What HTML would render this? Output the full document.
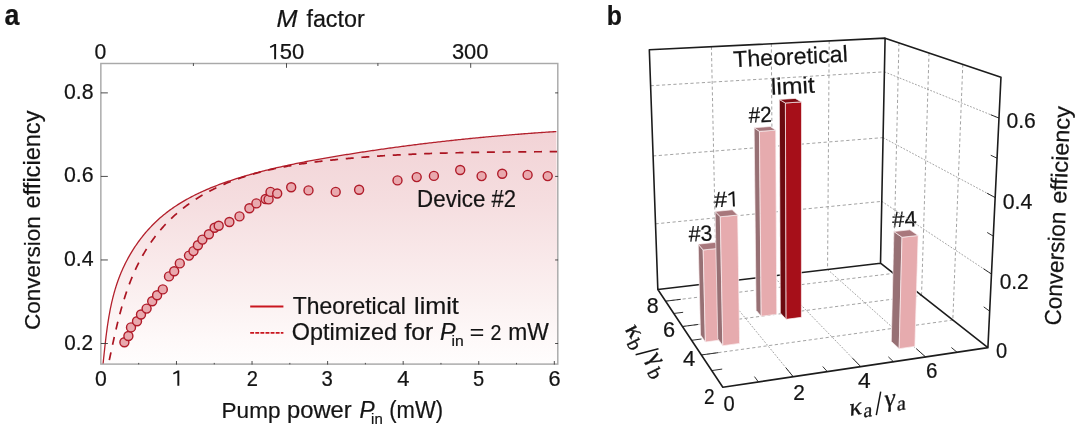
<!DOCTYPE html><html><head><meta charset="utf-8"><style>html,body{margin:0;padding:0;background:#fff}svg{display:block;will-change:transform}</style></head><body><svg width="1080" height="431" viewBox="0 0 1080 431"><defs><linearGradient id="g" x1="0" y1="0" x2="0" y2="1"><stop offset="0" stop-color="#f2d3d6"/><stop offset="0.28" stop-color="#f5dddf"/><stop offset="0.525" stop-color="#f9e9ea"/><stop offset="0.69" stop-color="#fbf1f1"/><stop offset="0.85" stop-color="#fef9f9"/><stop offset="1" stop-color="#ffffff"/></linearGradient>
<clipPath id="ca"><rect x="100.85" y="63.5" width="456.94999999999993" height="300.6"/></clipPath></defs>
<g clip-path="url(#ca)"><path d="M101.71,375.74 L101.88,374.34 L102.04,372.94 L102.2,371.54 L102.36,370.13 L102.52,368.72 L102.68,367.3 L102.83,365.88 L102.99,364.45 L103.14,363.03 L103.29,361.6 L103.44,360.16 L103.6,358.73 L103.75,357.29 L103.9,355.85 L104.05,354.4 L104.2,352.96 L104.36,351.51 L104.51,350.06 L104.67,348.6 L104.83,347.15 L104.99,345.69 L105.15,344.24 L105.32,342.78 L105.48,341.32 L105.65,339.86 L105.83,338.39 L106,336.93 L106.18,335.47 L106.37,334.01 L106.56,332.54 L106.75,331.08 L106.95,329.61 L107.15,328.15 L107.35,326.68 L107.56,325.22 L107.78,323.76 L108,322.29 L108.23,320.83 L108.46,319.37 L108.71,317.91 L108.95,316.45 L109.21,315 L109.47,313.54 L109.74,312.09 L110.01,310.63 L110.29,309.18 L110.59,307.74 L110.88,306.29 L111.19,304.85 L111.51,303.4 L111.83,301.97 L112.17,300.53 L112.51,299.1 L112.87,297.67 L113.23,296.24 L113.6,294.82 L113.99,293.4 L114.38,291.98 L114.78,290.57 L115.2,289.16 L115.63,287.76 L116.06,286.36 L116.51,284.96 L116.98,283.57 L117.45,282.18 L117.94,280.8 L118.43,279.42 L118.95,278.05 L119.47,276.69 L120.01,275.32 L120.55,273.97 L121.12,272.62 L121.69,271.27 L122.27,269.93 L122.87,268.6 L123.48,267.27 L124.1,265.95 L124.74,264.64 L125.38,263.33 L126.04,262.03 L126.71,260.73 L127.39,259.44 L128.08,258.16 L128.79,256.88 L129.5,255.62 L130.23,254.36 L130.97,253.1 L131.72,251.86 L132.49,250.62 L133.26,249.39 L134.05,248.17 L134.84,246.95 L135.65,245.74 L136.47,244.55 L137.3,243.36 L138.14,242.17 L139,241 L139.86,239.84 L140.73,238.68 L141.62,237.53 L142.52,236.4 L143.43,235.27 L144.34,234.15 L145.27,233.04 L146.21,231.94 L147.16,230.85 L148.12,229.77 L149.1,228.7 L150.08,227.64 L151.07,226.58 L152.08,225.54 L153.09,224.51 L154.11,223.49 L155.15,222.49 L156.19,221.49 L157.25,220.5 L158.31,219.52 L159.39,218.56 L160.47,217.61 L161.57,216.66 L162.67,215.73 L163.78,214.81 L164.91,213.9 L166.04,213.01 L167.19,212.12 L168.34,211.25 L169.5,210.39 L170.67,209.53 L171.85,208.69 L173.04,207.86 L174.24,207.04 L175.44,206.24 L176.66,205.44 L177.88,204.65 L179.11,203.87 L180.34,203.1 L181.59,202.35 L182.84,201.6 L184.1,200.86 L185.36,200.13 L186.64,199.41 L187.92,198.7 L189.2,198 L190.49,197.31 L191.79,196.63 L193.1,195.96 L194.41,195.29 L195.72,194.64 L197.05,193.99 L198.37,193.35 L199.71,192.72 L201.04,192.1 L202.39,191.49 L203.73,190.88 L205.09,190.29 L206.44,189.7 L207.8,189.11 L209.17,188.54 L210.54,187.97 L211.91,187.41 L213.29,186.86 L214.67,186.31 L216.05,185.78 L217.43,185.24 L218.82,184.72 L220.22,184.2 L221.61,183.69 L223.01,183.18 L224.41,182.69 L225.81,182.19 L227.21,181.71 L228.62,181.22 L230.03,180.75 L231.43,180.28 L232.84,179.82 L234.26,179.36 L235.67,178.91 L237.08,178.46 L238.5,178.02 L239.91,177.58 L241.33,177.15 L242.74,176.72 L244.16,176.3 L245.57,175.88 L246.99,175.46 L248.41,175.05 L249.82,174.65 L251.24,174.25 L252.66,173.85 L254.08,173.46 L255.49,173.08 L256.91,172.69 L258.33,172.31 L259.75,171.94 L261.17,171.57 L262.59,171.2 L264.01,170.84 L265.43,170.48 L266.85,170.13 L268.27,169.78 L269.69,169.43 L271.11,169.08 L272.54,168.74 L273.96,168.41 L275.38,168.07 L276.8,167.74 L278.23,167.42 L279.65,167.09 L281.07,166.77 L282.5,166.46 L283.92,166.14 L285.35,165.83 L286.77,165.52 L288.2,165.22 L289.63,164.92 L291.05,164.62 L292.48,164.32 L293.91,164.03 L295.33,163.73 L296.76,163.45 L298.19,163.16 L299.62,162.88 L301.05,162.59 L302.48,162.32 L303.91,162.04 L305.34,161.76 L306.77,161.49 L308.2,161.22 L309.63,160.95 L311.06,160.69 L312.49,160.42 L313.92,160.16 L315.36,159.9 L316.79,159.64 L318.22,159.38 L319.66,159.12 L321.09,158.87 L322.53,158.62 L323.96,158.36 L325.4,158.11 L326.83,157.87 L328.27,157.62 L329.7,157.37 L331.14,157.13 L332.58,156.88 L334.02,156.64 L335.45,156.4 L336.89,156.16 L338.33,155.92 L339.77,155.68 L341.21,155.44 L342.65,155.2 L344.09,154.97 L345.53,154.73 L346.97,154.5 L348.41,154.27 L349.85,154.04 L351.3,153.81 L352.74,153.58 L354.18,153.35 L355.62,153.12 L357.07,152.9 L358.51,152.67 L359.95,152.45 L361.4,152.23 L362.84,152.01 L364.29,151.79 L365.73,151.57 L367.18,151.35 L368.62,151.13 L370.07,150.92 L371.52,150.7 L372.96,150.49 L374.41,150.28 L375.86,150.06 L377.3,149.85 L378.75,149.64 L380.2,149.44 L381.65,149.23 L383.1,149.02 L384.55,148.82 L385.99,148.61 L387.44,148.41 L388.89,148.21 L390.34,148.01 L391.79,147.81 L393.24,147.61 L394.69,147.41 L396.15,147.21 L397.6,147.02 L399.05,146.82 L400.5,146.63 L401.95,146.43 L403.4,146.24 L404.85,146.05 L406.31,145.86 L407.76,145.67 L409.21,145.49 L410.66,145.3 L412.12,145.11 L413.57,144.93 L415.02,144.75 L416.48,144.56 L417.93,144.38 L419.39,144.2 L420.84,144.02 L422.29,143.84 L423.75,143.67 L425.2,143.49 L426.66,143.31 L428.11,143.14 L429.57,142.97 L431.02,142.79 L432.48,142.62 L433.94,142.45 L435.39,142.28 L436.85,142.11 L438.3,141.95 L439.76,141.78 L441.22,141.61 L442.67,141.45 L444.13,141.29 L445.59,141.12 L447.04,140.96 L448.5,140.8 L449.96,140.64 L451.41,140.48 L452.87,140.33 L454.33,140.17 L455.78,140.01 L457.24,139.86 L458.7,139.71 L460.16,139.55 L461.61,139.4 L463.07,139.25 L464.53,139.1 L465.99,138.95 L467.45,138.8 L468.9,138.66 L470.36,138.51 L471.82,138.37 L473.28,138.22 L474.74,138.08 L476.19,137.94 L477.65,137.8 L479.11,137.66 L480.57,137.52 L482.03,137.38 L483.49,137.24 L484.94,137.1 L486.4,136.97 L487.86,136.84 L489.32,136.7 L490.78,136.57 L492.24,136.44 L493.69,136.31 L495.15,136.18 L496.61,136.05 L498.07,135.92 L499.53,135.79 L500.99,135.67 L502.44,135.54 L503.9,135.42 L505.36,135.29 L506.82,135.17 L508.28,135.05 L509.73,134.93 L511.19,134.81 L512.65,134.69 L514.11,134.57 L515.57,134.46 L517.02,134.34 L518.48,134.23 L519.94,134.11 L521.4,134 L522.86,133.89 L524.31,133.77 L525.77,133.66 L527.23,133.55 L528.68,133.44 L530.14,133.34 L531.6,133.23 L533.06,133.12 L534.51,133.02 L535.97,132.91 L537.43,132.81 L538.88,132.71 L540.34,132.61 L541.8,132.51 L543.25,132.41 L544.71,132.31 L546.16,132.21 L547.62,132.11 L549.07,132.02 L550.53,131.92 L551.99,131.83 L553.44,131.73 L554.9,131.64 L556.35,131.55 L557.8,376.1 L100.85,376.1 Z" fill="url(#g)"/>
<path d="M101.71,375.74 L101.88,374.34 L102.04,372.94 L102.2,371.54 L102.36,370.13 L102.52,368.72 L102.68,367.3 L102.83,365.88 L102.99,364.45 L103.14,363.03 L103.29,361.6 L103.44,360.16 L103.6,358.73 L103.75,357.29 L103.9,355.85 L104.05,354.4 L104.2,352.96 L104.36,351.51 L104.51,350.06 L104.67,348.6 L104.83,347.15 L104.99,345.69 L105.15,344.24 L105.32,342.78 L105.48,341.32 L105.65,339.86 L105.83,338.39 L106,336.93 L106.18,335.47 L106.37,334.01 L106.56,332.54 L106.75,331.08 L106.95,329.61 L107.15,328.15 L107.35,326.68 L107.56,325.22 L107.78,323.76 L108,322.29 L108.23,320.83 L108.46,319.37 L108.71,317.91 L108.95,316.45 L109.21,315 L109.47,313.54 L109.74,312.09 L110.01,310.63 L110.29,309.18 L110.59,307.74 L110.88,306.29 L111.19,304.85 L111.51,303.4 L111.83,301.97 L112.17,300.53 L112.51,299.1 L112.87,297.67 L113.23,296.24 L113.6,294.82 L113.99,293.4 L114.38,291.98 L114.78,290.57 L115.2,289.16 L115.63,287.76 L116.06,286.36 L116.51,284.96 L116.98,283.57 L117.45,282.18 L117.94,280.8 L118.43,279.42 L118.95,278.05 L119.47,276.69 L120.01,275.32 L120.55,273.97 L121.12,272.62 L121.69,271.27 L122.27,269.93 L122.87,268.6 L123.48,267.27 L124.1,265.95 L124.74,264.64 L125.38,263.33 L126.04,262.03 L126.71,260.73 L127.39,259.44 L128.08,258.16 L128.79,256.88 L129.5,255.62 L130.23,254.36 L130.97,253.1 L131.72,251.86 L132.49,250.62 L133.26,249.39 L134.05,248.17 L134.84,246.95 L135.65,245.74 L136.47,244.55 L137.3,243.36 L138.14,242.17 L139,241 L139.86,239.84 L140.73,238.68 L141.62,237.53 L142.52,236.4 L143.43,235.27 L144.34,234.15 L145.27,233.04 L146.21,231.94 L147.16,230.85 L148.12,229.77 L149.1,228.7 L150.08,227.64 L151.07,226.58 L152.08,225.54 L153.09,224.51 L154.11,223.49 L155.15,222.49 L156.19,221.49 L157.25,220.5 L158.31,219.52 L159.39,218.56 L160.47,217.61 L161.57,216.66 L162.67,215.73 L163.78,214.81 L164.91,213.9 L166.04,213.01 L167.19,212.12 L168.34,211.25 L169.5,210.39 L170.67,209.53 L171.85,208.69 L173.04,207.86 L174.24,207.04 L175.44,206.24 L176.66,205.44 L177.88,204.65 L179.11,203.87 L180.34,203.1 L181.59,202.35 L182.84,201.6 L184.1,200.86 L185.36,200.13 L186.64,199.41 L187.92,198.7 L189.2,198 L190.49,197.31 L191.79,196.63 L193.1,195.96 L194.41,195.29 L195.72,194.64 L197.05,193.99 L198.37,193.35 L199.71,192.72 L201.04,192.1 L202.39,191.49 L203.73,190.88 L205.09,190.29 L206.44,189.7 L207.8,189.11 L209.17,188.54 L210.54,187.97 L211.91,187.41 L213.29,186.86 L214.67,186.31 L216.05,185.78 L217.43,185.24 L218.82,184.72 L220.22,184.2 L221.61,183.69 L223.01,183.18 L224.41,182.69 L225.81,182.19 L227.21,181.71 L228.62,181.22 L230.03,180.75 L231.43,180.28 L232.84,179.82 L234.26,179.36 L235.67,178.91 L237.08,178.46 L238.5,178.02 L239.91,177.58 L241.33,177.15 L242.74,176.72 L244.16,176.3 L245.57,175.88 L246.99,175.46 L248.41,175.05 L249.82,174.65 L251.24,174.25 L252.66,173.85 L254.08,173.46 L255.49,173.08 L256.91,172.69 L258.33,172.31 L259.75,171.94 L261.17,171.57 L262.59,171.2 L264.01,170.84 L265.43,170.48 L266.85,170.13 L268.27,169.78 L269.69,169.43 L271.11,169.08 L272.54,168.74 L273.96,168.41 L275.38,168.07 L276.8,167.74 L278.23,167.42 L279.65,167.09 L281.07,166.77 L282.5,166.46 L283.92,166.14 L285.35,165.83 L286.77,165.52 L288.2,165.22 L289.63,164.92 L291.05,164.62 L292.48,164.32 L293.91,164.03 L295.33,163.73 L296.76,163.45 L298.19,163.16 L299.62,162.88 L301.05,162.59 L302.48,162.32 L303.91,162.04 L305.34,161.76 L306.77,161.49 L308.2,161.22 L309.63,160.95 L311.06,160.69 L312.49,160.42 L313.92,160.16 L315.36,159.9 L316.79,159.64 L318.22,159.38 L319.66,159.12 L321.09,158.87 L322.53,158.62 L323.96,158.36 L325.4,158.11 L326.83,157.87 L328.27,157.62 L329.7,157.37 L331.14,157.13 L332.58,156.88 L334.02,156.64 L335.45,156.4 L336.89,156.16 L338.33,155.92 L339.77,155.68 L341.21,155.44 L342.65,155.2 L344.09,154.97 L345.53,154.73 L346.97,154.5 L348.41,154.27 L349.85,154.04 L351.3,153.81 L352.74,153.58 L354.18,153.35 L355.62,153.12 L357.07,152.9 L358.51,152.67 L359.95,152.45 L361.4,152.23 L362.84,152.01 L364.29,151.79 L365.73,151.57 L367.18,151.35 L368.62,151.13 L370.07,150.92 L371.52,150.7 L372.96,150.49 L374.41,150.28 L375.86,150.06 L377.3,149.85 L378.75,149.64 L380.2,149.44 L381.65,149.23 L383.1,149.02 L384.55,148.82 L385.99,148.61 L387.44,148.41 L388.89,148.21 L390.34,148.01 L391.79,147.81 L393.24,147.61 L394.69,147.41 L396.15,147.21 L397.6,147.02 L399.05,146.82 L400.5,146.63 L401.95,146.43 L403.4,146.24 L404.85,146.05 L406.31,145.86 L407.76,145.67 L409.21,145.49 L410.66,145.3 L412.12,145.11 L413.57,144.93 L415.02,144.75 L416.48,144.56 L417.93,144.38 L419.39,144.2 L420.84,144.02 L422.29,143.84 L423.75,143.67 L425.2,143.49 L426.66,143.31 L428.11,143.14 L429.57,142.97 L431.02,142.79 L432.48,142.62 L433.94,142.45 L435.39,142.28 L436.85,142.11 L438.3,141.95 L439.76,141.78 L441.22,141.61 L442.67,141.45 L444.13,141.29 L445.59,141.12 L447.04,140.96 L448.5,140.8 L449.96,140.64 L451.41,140.48 L452.87,140.33 L454.33,140.17 L455.78,140.01 L457.24,139.86 L458.7,139.71 L460.16,139.55 L461.61,139.4 L463.07,139.25 L464.53,139.1 L465.99,138.95 L467.45,138.8 L468.9,138.66 L470.36,138.51 L471.82,138.37 L473.28,138.22 L474.74,138.08 L476.19,137.94 L477.65,137.8 L479.11,137.66 L480.57,137.52 L482.03,137.38 L483.49,137.24 L484.94,137.1 L486.4,136.97 L487.86,136.84 L489.32,136.7 L490.78,136.57 L492.24,136.44 L493.69,136.31 L495.15,136.18 L496.61,136.05 L498.07,135.92 L499.53,135.79 L500.99,135.67 L502.44,135.54 L503.9,135.42 L505.36,135.29 L506.82,135.17 L508.28,135.05 L509.73,134.93 L511.19,134.81 L512.65,134.69 L514.11,134.57 L515.57,134.46 L517.02,134.34 L518.48,134.23 L519.94,134.11 L521.4,134 L522.86,133.89 L524.31,133.77 L525.77,133.66 L527.23,133.55 L528.68,133.44 L530.14,133.34 L531.6,133.23 L533.06,133.12 L534.51,133.02 L535.97,132.91 L537.43,132.81 L538.88,132.71 L540.34,132.61 L541.8,132.51 L543.25,132.41 L544.71,132.31 L546.16,132.21 L547.62,132.11 L549.07,132.02 L550.53,131.92 L551.99,131.83 L553.44,131.73 L554.9,131.64 L556.35,131.55" fill="none" stroke="#b3202c" stroke-width="1.3"/>
<path d="M109.29,360.16 L109.57,358.83 L109.86,357.49 L110.14,356.15 L110.42,354.81 L110.71,353.47 L110.99,352.13 L111.28,350.78 L111.57,349.44 L111.85,348.09 L112.14,346.74 L112.43,345.39 L112.73,344.04 L113.02,342.68 L113.32,341.33 L113.62,339.97 L113.92,338.61 L114.22,337.26 L114.52,335.9 L114.83,334.54 L115.14,333.18 L115.45,331.82 L115.77,330.46 L116.08,329.1 L116.41,327.74 L116.73,326.38 L117.06,325.02 L117.39,323.66 L117.72,322.3 L118.06,320.94 L118.41,319.58 L118.75,318.22 L119.1,316.87 L119.46,315.51 L119.82,314.15 L120.18,312.8 L120.55,311.44 L120.93,310.09 L121.3,308.74 L121.69,307.38 L122.08,306.04 L122.47,304.69 L122.87,303.34 L123.28,302 L123.69,300.65 L124.1,299.31 L124.53,297.97 L124.96,296.63 L125.39,295.3 L125.83,293.97 L126.28,292.64 L126.73,291.31 L127.2,289.98 L127.66,288.66 L128.14,287.34 L128.62,286.02 L129.11,284.71 L129.61,283.39 L130.12,282.08 L130.63,280.78 L131.15,279.48 L131.68,278.18 L132.21,276.88 L132.76,275.59 L133.31,274.3 L133.87,273.02 L134.44,271.74 L135.02,270.46 L135.61,269.19 L136.2,267.92 L136.81,266.65 L137.43,265.39 L138.05,264.14 L138.68,262.89 L139.32,261.64 L139.98,260.4 L140.64,259.16 L141.31,257.93 L141.98,256.7 L142.67,255.48 L143.37,254.27 L144.08,253.06 L144.79,251.85 L145.52,250.66 L146.25,249.46 L147,248.28 L147.75,247.1 L148.51,245.93 L149.29,244.76 L150.07,243.6 L150.86,242.45 L151.66,241.3 L152.47,240.16 L153.29,239.03 L154.12,237.9 L154.97,236.79 L155.82,235.68 L156.67,234.57 L157.54,233.48 L158.42,232.39 L159.31,231.31 L160.21,230.24 L161.12,229.18 L162.04,228.13 L162.97,227.08 L163.91,226.05 L164.85,225.02 L165.81,224 L166.78,222.99 L167.75,221.99 L168.74,221 L169.73,220.01 L170.73,219.04 L171.74,218.07 L172.76,217.11 L173.79,216.17 L174.82,215.23 L175.87,214.3 L176.92,213.38 L177.97,212.47 L179.04,211.57 L180.11,210.68 L181.19,209.8 L182.27,208.92 L183.37,208.06 L184.47,207.21 L185.57,206.36 L186.68,205.53 L187.8,204.71 L188.92,203.89 L190.05,203.09 L191.19,202.3 L192.33,201.51 L193.48,200.74 L194.63,199.98 L195.78,199.22 L196.95,198.48 L198.11,197.74 L199.29,197.02 L200.46,196.3 L201.65,195.6 L202.83,194.9 L204.03,194.21 L205.23,193.53 L206.43,192.87 L207.64,192.21 L208.85,191.55 L210.06,190.91 L211.29,190.28 L212.51,189.65 L213.74,189.04 L214.98,188.43 L216.22,187.83 L217.46,187.24 L218.71,186.66 L219.96,186.08 L221.22,185.52 L222.48,184.96 L223.75,184.41 L225.01,183.87 L226.29,183.33 L227.56,182.81 L228.85,182.29 L230.13,181.78 L231.42,181.28 L232.71,180.78 L234.01,180.29 L235.3,179.81 L236.61,179.34 L237.91,178.87 L239.22,178.41 L240.54,177.96 L241.85,177.52 L243.17,177.08 L244.49,176.65 L245.82,176.22 L247.15,175.81 L248.48,175.4 L249.81,174.99 L251.15,174.59 L252.49,174.2 L253.83,173.82 L255.18,173.44 L256.53,173.07 L257.88,172.7 L259.23,172.34 L260.59,171.99 L261.95,171.64 L263.31,171.29 L264.67,170.96 L266.04,170.63 L267.41,170.3 L268.78,169.98 L270.15,169.66 L271.52,169.36 L272.9,169.05 L274.28,168.75 L275.66,168.46 L277.04,168.17 L278.42,167.89 L279.8,167.61 L281.19,167.33 L282.58,167.06 L283.97,166.8 L285.36,166.54 L286.75,166.29 L288.15,166.03 L289.54,165.79 L290.94,165.55 L292.34,165.31 L293.74,165.07 L295.14,164.85 L296.54,164.62 L297.94,164.4 L299.34,164.18 L300.75,163.97 L302.15,163.76 L303.56,163.55 L304.96,163.35 L306.37,163.15 L307.77,162.95 L309.18,162.76 L310.59,162.57 L312,162.38 L313.41,162.2 L314.82,162.02 L316.23,161.84 L317.64,161.67 L319.04,161.5 L320.45,161.33 L321.86,161.16 L323.27,161 L324.68,160.84 L326.09,160.68 L327.5,160.53 L328.91,160.37 L330.32,160.22 L331.73,160.07 L333.13,159.93 L334.54,159.78 L335.95,159.64 L337.35,159.5 L338.76,159.36 L340.16,159.22 L341.57,159.08 L342.97,158.95 L344.37,158.82 L345.77,158.69 L347.18,158.56 L348.58,158.43 L349.98,158.31 L351.38,158.18 L352.78,158.06 L354.17,157.94 L355.57,157.82 L356.97,157.7 L358.37,157.59 L359.76,157.48 L361.16,157.36 L362.55,157.25 L363.95,157.14 L365.34,157.04 L366.74,156.93 L368.13,156.82 L369.52,156.72 L370.92,156.62 L372.31,156.52 L373.7,156.42 L375.09,156.32 L376.48,156.23 L377.87,156.13 L379.26,156.04 L380.65,155.95 L382.04,155.86 L383.43,155.77 L384.82,155.69 L386.21,155.6 L387.6,155.52 L388.98,155.43 L390.37,155.35 L391.76,155.27 L393.15,155.19 L394.53,155.11 L395.92,155.04 L397.31,154.96 L398.69,154.89 L400.08,154.82 L401.47,154.74 L402.85,154.67 L404.24,154.61 L405.62,154.54 L407.01,154.47 L408.39,154.41 L409.78,154.34 L411.16,154.28 L412.55,154.22 L413.93,154.16 L415.32,154.1 L416.7,154.04 L418.08,153.98 L419.47,153.92 L420.85,153.87 L422.24,153.81 L423.62,153.76 L425.01,153.71 L426.39,153.66 L427.77,153.61 L429.16,153.56 L430.54,153.51 L431.93,153.46 L433.31,153.41 L434.7,153.37 L436.08,153.32 L437.47,153.28 L438.85,153.24 L440.23,153.2 L441.62,153.16 L443,153.12 L444.39,153.08 L445.78,153.04 L447.16,153 L448.55,152.96 L449.93,152.93 L451.32,152.89 L452.71,152.86 L454.09,152.82 L455.48,152.79 L456.87,152.76 L458.25,152.73 L459.64,152.7 L461.03,152.67 L462.42,152.64 L463.8,152.61 L465.19,152.58 L466.58,152.56 L467.97,152.53 L469.36,152.5 L470.75,152.48 L472.14,152.45 L473.53,152.43 L474.92,152.4 L476.31,152.38 L477.71,152.36 L479.1,152.34 L480.49,152.32 L481.88,152.3 L483.28,152.28 L484.67,152.26 L486.07,152.24 L487.46,152.22 L488.86,152.2 L490.25,152.18 L491.65,152.16 L493.05,152.15 L494.44,152.13 L495.84,152.11 L497.24,152.1 L498.64,152.08 L500.04,152.07 L501.44,152.05 L502.84,152.04 L504.24,152.02 L505.65,152.01 L507.05,152 L508.45,151.98 L509.86,151.97 L511.26,151.96 L512.67,151.94 L514.07,151.93 L515.48,151.92 L516.89,151.91 L518.29,151.9 L519.7,151.88 L521.11,151.87 L522.52,151.86 L523.93,151.85 L525.35,151.84 L526.76,151.83 L528.17,151.82 L529.59,151.81 L531,151.8 L532.42,151.79 L533.84,151.78 L535.25,151.77 L536.67,151.76 L538.09,151.75 L539.51,151.74 L540.93,151.73 L542.35,151.72 L543.78,151.71 L545.2,151.7 L546.63,151.68 L548.05,151.67 L549.48,151.66 L550.91,151.65 L552.33,151.64 L553.76,151.63 L555.19,151.62 L556.63,151.61 L558.06,151.6" fill="none" stroke="#ab1421" stroke-width="1.7" stroke-dasharray="8 7.7"/></g>
<rect x="100.85" y="63.5" width="456.94999999999993" height="300.6" fill="none" stroke="#a9a9a9" stroke-width="1.45"/>
<path d="M176.47,364.6 v-3.6 M252.04,364.6 v-3.6 M327.61,364.6 v-3.6 M403.18,364.6 v-3.6 M478.75,364.6 v-3.6 M554.32,364.6 v-3.6 M138.69,364.40000000000003 v-1.5 M214.25,364.40000000000003 v-1.5 M289.82,364.40000000000003 v-1.5 M365.39,364.40000000000003 v-1.5 M440.96,364.40000000000003 v-1.5 M516.53,364.40000000000003 v-1.5 M100.85,343.5 h7 M558.0999999999999,343.5 h-3 M100.85,259.96 h7 M558.0999999999999,259.96 h-3 M100.85,176.42 h7 M558.0999999999999,176.42 h-3 M100.85,92.88 h7 M558.0999999999999,92.88 h-3 M286.5,63.2 v4.6 M470.7,63.2 v4.6 M193.4,63.2 v2.8 M377.9,63.2 v2.8" stroke="#3a3a3a" stroke-width="0.9" fill="none"/>
<g fill="#e9a9ae" stroke="#b01c2a" stroke-width="1.4">
<circle cx="124.4" cy="342.3" r="4.5"/>
<circle cx="128.4" cy="336" r="4.5"/>
<circle cx="131" cy="327.4" r="4.5"/>
<circle cx="137" cy="321.2" r="4.5"/>
<circle cx="141" cy="314.5" r="4.5"/>
<circle cx="146.6" cy="308.6" r="4.5"/>
<circle cx="152.2" cy="301.2" r="4.5"/>
<circle cx="157.1" cy="295.2" r="4.5"/>
<circle cx="162.8" cy="289.4" r="4.5"/>
<circle cx="169" cy="276.4" r="4.5"/>
<circle cx="174.2" cy="271.2" r="4.5"/>
<circle cx="179.8" cy="263.4" r="4.5"/>
<circle cx="189" cy="255.6" r="4.5"/>
<circle cx="193.5" cy="251.1" r="4.5"/>
<circle cx="197.9" cy="245.2" r="4.5"/>
<circle cx="202.4" cy="239.6" r="4.5"/>
<circle cx="208.9" cy="234.2" r="4.5"/>
<circle cx="214.6" cy="227.8" r="4.5"/>
<circle cx="218.7" cy="225.7" r="4.5"/>
<circle cx="229.4" cy="222" r="4.5"/>
<circle cx="239.5" cy="216.4" r="4.5"/>
<circle cx="249.4" cy="208.2" r="4.5"/>
<circle cx="256.4" cy="203.4" r="4.5"/>
<circle cx="265.6" cy="199.0" r="4.5"/>
<circle cx="268.6" cy="199.4" r="4.5"/>
<circle cx="270.5" cy="191.9" r="4.5"/>
<circle cx="277.2" cy="193.5" r="4.5"/>
<circle cx="291.2" cy="187.3" r="4.5"/>
<circle cx="308.5" cy="190.4" r="4.5"/>
<circle cx="335.7" cy="191.9" r="4.5"/>
<circle cx="359.1" cy="189.7" r="4.5"/>
<circle cx="397.5" cy="180.4" r="4.5"/>
<circle cx="416.7" cy="177.1" r="4.5"/>
<circle cx="433.9" cy="175.9" r="4.5"/>
<circle cx="460.2" cy="170" r="4.5"/>
<circle cx="481.6" cy="176.1" r="4.5"/>
<circle cx="502.2" cy="173.7" r="4.5"/>
<circle cx="527.6" cy="174.9" r="4.5"/>
<circle cx="547.7" cy="176.1" r="4.5"/>
</g>
<text transform="translate(4.5,25.3) scale(0.9083,1)" font-family="Liberation Sans, sans-serif" font-size="29.5" text-anchor="start" fill="#141414" stroke="#141414" stroke-width="0.22"  font-weight="bold">a</text>
<text transform="translate(606.7,25.3) scale(0.8876,1)" font-family="Liberation Sans, sans-serif" font-size="28" text-anchor="start" fill="#141414" stroke="#141414" stroke-width="0.22"  font-weight="bold">b</text>
<text transform="translate(276.4,27.3) scale(1.0961,1)" font-family="Liberation Sans, sans-serif" font-size="23" text-anchor="start" fill="#141414" stroke="#141414" stroke-width="0.22"  font-style="italic">M</text>
<text transform="translate(306.4,27.3) scale(1.0139,1)" font-family="Liberation Sans, sans-serif" font-size="23" text-anchor="start" fill="#141414" stroke="#141414" stroke-width="0.22" >factor</text>
<text transform="translate(94.6,59.2) scale(0.9633,1)" font-family="Liberation Sans, sans-serif" font-size="22" text-anchor="start" fill="#141414" stroke="#141414" stroke-width="0.22" >0</text>
<text transform="translate(279.7,59.2)" font-family="Liberation Sans, sans-serif" font-size="22" text-anchor="start" fill="#141414" stroke="#141414" stroke-width="0.22" >50</text>
<text transform="translate(451.9,59.2) scale(0.9959,1)" font-family="Liberation Sans, sans-serif" font-size="22" text-anchor="start" fill="#141414" stroke="#141414" stroke-width="0.22" >300</text>
<text transform="translate(63.9,98.9) scale(0.9665,1)" font-family="Liberation Sans, sans-serif" font-size="22" text-anchor="start" fill="#141414" stroke="#141414" stroke-width="0.22" >0.8</text>
<text transform="translate(63.9,182.4) scale(0.9698,1)" font-family="Liberation Sans, sans-serif" font-size="22" text-anchor="start" fill="#141414" stroke="#141414" stroke-width="0.22" >0.6</text>
<text transform="translate(63.9,265.9) scale(0.9698,1)" font-family="Liberation Sans, sans-serif" font-size="22" text-anchor="start" fill="#141414" stroke="#141414" stroke-width="0.22" >0.4</text>
<text transform="translate(64.2,349.6) scale(0.9404,1)" font-family="Liberation Sans, sans-serif" font-size="22" text-anchor="start" fill="#141414" stroke="#141414" stroke-width="0.22" >0.2</text>
<text transform="translate(95,385.7) scale(0.9633,1)" font-family="Liberation Sans, sans-serif" font-size="22" text-anchor="start" fill="#141414" stroke="#141414" stroke-width="0.22" >0</text>
<text transform="translate(246.8,385.7) scale(0.9143,1)" font-family="Liberation Sans, sans-serif" font-size="22" text-anchor="start" fill="#141414" stroke="#141414" stroke-width="0.22" >2</text>
<text transform="translate(321.6,385.7) scale(0.9224,1)" font-family="Liberation Sans, sans-serif" font-size="22" text-anchor="start" fill="#141414" stroke="#141414" stroke-width="0.22" >3</text>
<text transform="translate(397.2,385.7) scale(0.9959,1)" font-family="Liberation Sans, sans-serif" font-size="22" text-anchor="start" fill="#141414" stroke="#141414" stroke-width="0.22" >4</text>
<text transform="translate(473.1,385.7) scale(0.9143,1)" font-family="Liberation Sans, sans-serif" font-size="22" text-anchor="start" fill="#141414" stroke="#141414" stroke-width="0.22" >5</text>
<text transform="translate(548.4,385.7) scale(0.9878,1)" font-family="Liberation Sans, sans-serif" font-size="22" text-anchor="start" fill="#141414" stroke="#141414" stroke-width="0.22" >6</text>
<text transform="translate(39.5,330.1) rotate(-90) scale(0.9796,1)" font-family="Liberation Sans, sans-serif" font-size="23" text-anchor="start" fill="#141414" stroke="#141414" stroke-width="0.22" >Conversion</text>
<text transform="translate(39.5,208.4) rotate(-90) scale(1.0251,1)" font-family="Liberation Sans, sans-serif" font-size="23" text-anchor="start" fill="#141414" stroke="#141414" stroke-width="0.22" >efficiency</text>
<text transform="translate(221.6,417.6) scale(0.9796,1)" font-family="Liberation Sans, sans-serif" font-size="23" text-anchor="start" fill="#141414" stroke="#141414" stroke-width="0.22" >Pump</text>
<text transform="translate(287.1,417.6) scale(1.0315,1)" font-family="Liberation Sans, sans-serif" font-size="23" text-anchor="start" fill="#141414" stroke="#141414" stroke-width="0.22" >power</text>
<text transform="translate(359.6,417.6) scale(0.9886,1)" font-family="Liberation Sans, sans-serif" font-size="23" text-anchor="start" fill="#141414" stroke="#141414" stroke-width="0.22"  font-style="italic">P</text>
<text transform="translate(371.1,423.5) scale(0.9978,1)" font-family="Liberation Sans, sans-serif" font-size="15" text-anchor="start" fill="#141414" stroke="#141414" stroke-width="0.22" >in</text>
<text transform="translate(389.3,417.6) scale(0.9564,1)" font-family="Liberation Sans, sans-serif" font-size="23" text-anchor="start" fill="#141414" stroke="#141414" stroke-width="0.22" >(mW)</text>
<text transform="translate(292.7,313.5) scale(0.9960,1)" font-family="Liberation Sans, sans-serif" font-size="23" text-anchor="start" fill="#141414" stroke="#141414" stroke-width="0.22" >Theoretical</text>
<text transform="translate(414.1,313.5) scale(1.0960,1)" font-family="Liberation Sans, sans-serif" font-size="23" text-anchor="start" fill="#141414" stroke="#141414" stroke-width="0.22" >limit</text>
<text transform="translate(291.8,340.2) scale(1.0174,1)" font-family="Liberation Sans, sans-serif" font-size="23" text-anchor="start" fill="#141414" stroke="#141414" stroke-width="0.22" >Optimized</text>
<text transform="translate(404.4,340.2) scale(1.0791,1)" font-family="Liberation Sans, sans-serif" font-size="23" text-anchor="start" fill="#141414" stroke="#141414" stroke-width="0.22" >for</text>
<text transform="translate(440,340.2) scale(1.0211,1)" font-family="Liberation Sans, sans-serif" font-size="23" text-anchor="start" fill="#141414" stroke="#141414" stroke-width="0.22"  font-style="italic">P</text>
<text transform="translate(451.6,346.1) scale(1.0495,1)" font-family="Liberation Sans, sans-serif" font-size="15" text-anchor="start" fill="#141414" stroke="#141414" stroke-width="0.22" >in</text>
<text transform="translate(469.7,340.2) scale(1.1262,1)" font-family="Liberation Sans, sans-serif" font-size="22" text-anchor="start" fill="#141414" stroke="#141414" stroke-width="0.22" >=</text>
<text transform="translate(490.5,340.2) scale(0.8898,1)" font-family="Liberation Sans, sans-serif" font-size="22" text-anchor="start" fill="#141414" stroke="#141414" stroke-width="0.22" >2</text>
<text transform="translate(508.3,340.2) scale(0.9933,1)" font-family="Liberation Sans, sans-serif" font-size="23" text-anchor="start" fill="#141414" stroke="#141414" stroke-width="0.22" >mW</text>
<text transform="translate(417.1,206.9) scale(0.9708,1)" font-family="Liberation Sans, sans-serif" font-size="23" text-anchor="start" fill="#141414" stroke="#141414" stroke-width="0.22" >Device</text>
<text transform="translate(491.6,206.9) scale(0.9561,1)" font-family="Liberation Sans, sans-serif" font-size="23" text-anchor="start" fill="#141414" stroke="#141414" stroke-width="0.22" >#2</text>
<text transform="translate(1060.58,325.7) rotate(-87.43) scale(0.9796,1)" font-family="Liberation Sans, sans-serif" font-size="23" text-anchor="start" fill="#141414" stroke="#141414" stroke-width="0.22" >Conversion</text>
<text transform="translate(1066.03,204.1) rotate(-87.43) scale(1.0251,1)" font-family="Liberation Sans, sans-serif" font-size="23" text-anchor="start" fill="#141414" stroke="#141414" stroke-width="0.22" >efficiency</text>
<text transform="translate(733.5,67.22) rotate(-2.8) scale(1.0092,1)" font-family="Liberation Sans, sans-serif" font-size="23" text-anchor="start" fill="#141414" stroke="#141414" stroke-width="0.22" >Theoretical</text>
<text transform="translate(771.3,94.72) rotate(-2.8) scale(1.0765,1)" font-family="Liberation Sans, sans-serif" font-size="23" text-anchor="start" fill="#141414" stroke="#141414" stroke-width="0.22" >limit</text>
<text transform="translate(714.1,207.32) rotate(-2.5) scale(1.0939,1)" font-family="Liberation Sans, sans-serif" font-size="22" text-anchor="start" fill="#141414" stroke="#141414" stroke-width="0.22" >#</text>
<text transform="translate(749.1,122.82) rotate(-2.5) scale(0.9388,1)" font-family="Liberation Sans, sans-serif" font-size="22" text-anchor="start" fill="#141414" stroke="#141414" stroke-width="0.22" >#2</text>
<text transform="translate(688.9,241.42) rotate(-2.5) scale(0.9714,1)" font-family="Liberation Sans, sans-serif" font-size="22" text-anchor="start" fill="#141414" stroke="#141414" stroke-width="0.22" >#3</text>
<text transform="translate(892.5,227.32) rotate(-2.5)" font-family="Liberation Sans, sans-serif" font-size="22" text-anchor="start" fill="#141414" stroke="#141414" stroke-width="0.22" >#4</text>
<text transform="translate(996,357.6) scale(0.9143,1)" font-family="Liberation Sans, sans-serif" font-size="22" text-anchor="start" fill="#141414" stroke="#141414" stroke-width="0.22" >0</text>
<text transform="translate(999.7,289) scale(0.9502,1)" font-family="Liberation Sans, sans-serif" font-size="22" text-anchor="start" fill="#141414" stroke="#141414" stroke-width="0.22" >0.2</text>
<text transform="translate(1002.7,208.8) scale(0.9698,1)" font-family="Liberation Sans, sans-serif" font-size="22" text-anchor="start" fill="#141414" stroke="#141414" stroke-width="0.22" >0.4</text>
<text transform="translate(1006.4,128) scale(0.9600,1)" font-family="Liberation Sans, sans-serif" font-size="22" text-anchor="start" fill="#141414" stroke="#141414" stroke-width="0.22" >0.6</text>
<text transform="translate(723.4,410.5) scale(0.9143,1)" font-family="Liberation Sans, sans-serif" font-size="22" text-anchor="start" fill="#141414" stroke="#141414" stroke-width="0.22" >0</text>
<text transform="translate(793.2,399.5) scale(0.9469,1)" font-family="Liberation Sans, sans-serif" font-size="22" text-anchor="start" fill="#141414" stroke="#141414" stroke-width="0.22" >2</text>
<text transform="translate(858.1,388.4) scale(1.0367,1)" font-family="Liberation Sans, sans-serif" font-size="22" text-anchor="start" fill="#141414" stroke="#141414" stroke-width="0.22" >4</text>
<text transform="translate(925.9,378) scale(0.9388,1)" font-family="Liberation Sans, sans-serif" font-size="22" text-anchor="start" fill="#141414" stroke="#141414" stroke-width="0.22" >6</text>
<text transform="translate(646.8,312.8) scale(0.9714,1)" font-family="Liberation Sans, sans-serif" font-size="22" text-anchor="start" fill="#141414" stroke="#141414" stroke-width="0.22" >8</text>
<text transform="translate(663.1,337.3) scale(0.9878,1)" font-family="Liberation Sans, sans-serif" font-size="22" text-anchor="start" fill="#141414" stroke="#141414" stroke-width="0.22" >6</text>
<text transform="translate(683.1,366.2) scale(1.0041,1)" font-family="Liberation Sans, sans-serif" font-size="22" text-anchor="start" fill="#141414" stroke="#141414" stroke-width="0.22" >4</text>
<text transform="translate(704,403.5) scale(0.8653,1)" font-family="Liberation Sans, sans-serif" font-size="22" text-anchor="start" fill="#141414" stroke="#141414" stroke-width="0.22" >2</text>
<text transform="matrix(1.0000,-0.1720,-0.0400,1.0000,849.21,415.94)" font-family="Liberation Serif, serif" font-size="25" fill="#141414" stroke="#141414" stroke-width="0.35">κ</text>
<text transform="matrix(1.0000,-0.1720,-0.0400,1.0000,863.13,417.48)" font-family="Liberation Serif, serif" font-size="20" fill="#141414" stroke="#141414" stroke-width="0.35">a</text>
<text transform="matrix(1.0000,-0.1720,-0.0400,1.0000,884.34,407.25)" font-family="Liberation Serif, serif" font-size="25" fill="#141414" stroke="#141414" stroke-width="0.35">γ</text>
<text transform="matrix(1.0000,-0.1720,-0.0400,1.0000,896.83,410.78)" font-family="Liberation Serif, serif" font-size="20" fill="#141414" stroke="#141414" stroke-width="0.35">a</text>
<path d="M876.3,415.2 L880.7,391.7" stroke="#141414" stroke-width="1.5" fill="none"/>
<text transform="matrix(0.5740,0.8190,-0.8940,0.4480,624.14,329.21)" font-family="Liberation Serif, serif" font-size="25" fill="#141414" stroke="#141414" stroke-width="0.35">κ</text>
<text transform="matrix(0.5740,0.8190,-0.8940,0.4480,625.74,343.16)" font-family="Liberation Serif, serif" font-size="20" fill="#141414" stroke="#141414" stroke-width="0.35">b</text>
<text transform="matrix(0.5740,0.8190,-0.8940,0.4480,646.54,357.22)" font-family="Liberation Serif, serif" font-size="25" fill="#141414" stroke="#141414" stroke-width="0.35">γ</text>
<text transform="matrix(0.5740,0.8190,-0.8940,0.4480,646.34,372.16)" font-family="Liberation Serif, serif" font-size="20" fill="#141414" stroke="#141414" stroke-width="0.35">b</text>
<path d="M635.6,354.7 L658.5,348.8" stroke="#141414" stroke-width="1.5" fill="none"/>
<path d="M179.3,385.7 V370.4 H177.70000000000002 L173.05,372.95 L173.60000000000002,374.5 L177.35000000000002,372.65 V385.7 Z" fill="#141414"/>
<path d="M276.1,59.2 V43.900000000000006 H274.50000000000006 L269.85,46.45 L270.40000000000003,48.00000000000001 L274.15000000000003,46.150000000000006 V59.2 Z" fill="#141414"/>
<path d="M734.9,206.5 V191.3 H733.3 L728.65,193.85000000000002 L729.1999999999999,195.4 L732.9499999999999,193.55 V206.5 Z" fill="#141414" transform="rotate(-2.5,734.9,206.5)"/>
<path d="M250.2,306.5 H283.4" stroke="#c9161f" stroke-width="1.9"/>
<path d="M250.2,332.9 H283.4" stroke="#c9161f" stroke-width="1.9" stroke-dasharray="3.9 1.2"/>
<path d="M711.42,46.69 L716.32,282.6 M771.34,43.75 L772.86,275.91 M829.2,40.9 L827.56,269.44 M962.8,64.33 L952.83,320.06 M701.38,354.98 L952.83,320.06 M929.03,52.95 L921.54,295.45 M682.44,326.51 L921.54,295.45 M898.94,42.82 L893.48,273.38 M665.59,301.17 L893.48,273.38 M655.5,223.84 L881.77,201.37 M653.09,155.96 L883.07,137.62 M650.6,85.75 L884.41,71.84" stroke="#8c8c8c" stroke-width="0.8" stroke-dasharray="3.2 2.5" fill="none"/>
<path d="M716.32,282.6 L793.21,376.72 M772.86,275.91 L860.74,366.64 M827.56,269.44 L925.59,356.96 M881.77,201.37 L991.47,274.01 M883.07,137.62 L995.16,197.55 M884.41,71.84 L998.99,118.09" stroke="#8c8c8c" stroke-width="0.8" stroke-dasharray="1.8 1.5" fill="none"/>
<path d="M657.84,289.52 L649.32,49.74 M649.32,49.74 L885.09,38.15 M885.09,38.15 L1000.97,77.18 M1000.97,77.18 L987.92,347.66 M880.51,263.18 L885.09,38.15 M657.84,289.52 L880.51,263.18 M880.51,263.18 L987.92,347.66 M657.84,289.52 L722.83,387.22 M722.83,387.22 L987.92,347.66" stroke="#1c1c1c" stroke-width="1.6" fill="none" stroke-linecap="round" stroke-linejoin="round"/>
<path d="M758.39,381.91 L754.44,376.58 M793.21,376.72 L785.93,367.81 M827.32,371.63 L822.75,366.51 M860.74,366.64 L852.45,358.08 M893.49,361.75 L888.35,356.83 M925.59,356.96 L916.37,348.73 M957.06,352.26 L951.4,347.53 M711.76,370.59 L722.2,369.08 M701.38,354.98 L718.26,352.64 M691.63,340.32 L701.5,338.99 M682.44,326.51 L698.42,324.43 M673.78,313.48 L683.13,312.3 M665.59,301.17 L680.77,299.32 M989.68,311.18 L983.71,306.85 M991.47,274.01 L983.56,268.78 M993.3,236.14 L987.18,232.48 M995.16,197.55 L987.05,193.21 M997.06,158.2 L990.78,155.26 M998.99,118.09 L990.68,114.73" stroke="#1c1c1c" stroke-width="0.9" fill="none"/>
<polygon points="756.12,310.34 761.21,316.28 759.44,131.37 754.14,127.71" fill="#977074" stroke="#fbeff0" stroke-width="0.7" stroke-linejoin="round"/>
<polygon points="761.21,316.28 776.77,314.25 775.74,130.15 759.44,131.37" fill="#e6abae" stroke="#fbeff0" stroke-width="0.7" stroke-linejoin="round"/>
<polygon points="759.44,131.37 775.74,130.15 770.24,126.53 754.14,127.71" fill="#a8777c" stroke="#fbeff0" stroke-width="0.7" stroke-linejoin="round"/>
<polygon points="780.34,312.94 786.13,319.34 785.42,102.98 779.33,99.46" fill="#6b0a10" stroke="#fbeff0" stroke-width="0.7" stroke-linejoin="round"/>
<polygon points="786.13,319.34 801.38,317.33 801.51,101.9 785.42,102.98" fill="#a60f19" stroke="#fbeff0" stroke-width="0.7" stroke-linejoin="round"/>
<polygon points="785.42,102.98 801.51,101.9 795.2,98.42 779.33,99.46" fill="#7d0a12" stroke="#fbeff0" stroke-width="0.7" stroke-linejoin="round"/>
<polygon points="700.52,334.99 705.4,342.04 703.2,249.98 698.24,244.16" fill="#977074" stroke="#fbeff0" stroke-width="0.7" stroke-linejoin="round"/>
<polygon points="705.4,342.04 722.14,339.78 720.34,248.13 703.2,249.98" fill="#e6abae" stroke="#fbeff0" stroke-width="0.7" stroke-linejoin="round"/>
<polygon points="703.2,249.98 720.34,248.13 715.14,242.36 698.24,244.16" fill="#a8777c" stroke="#fbeff0" stroke-width="0.7" stroke-linejoin="round"/>
<polygon points="717.74,338.66 722.82,345.69 720.31,216.76 715.11,211.46" fill="#977074" stroke="#fbeff0" stroke-width="0.7" stroke-linejoin="round"/>
<polygon points="722.82,345.69 739.59,343.39 737.65,215.04 720.31,216.76" fill="#e6abae" stroke="#fbeff0" stroke-width="0.7" stroke-linejoin="round"/>
<polygon points="720.31,216.76 737.65,215.04 732.21,209.8 715.11,211.46" fill="#a8777c" stroke="#fbeff0" stroke-width="0.7" stroke-linejoin="round"/>
<polygon points="891.31,341.43 899.17,348.68 902.02,237.26 893.9,231.54" fill="#977074" stroke="#fbeff0" stroke-width="0.7" stroke-linejoin="round"/>
<polygon points="899.17,348.68 914.85,346.4 918.13,235.47 902.02,237.26" fill="#e6abae" stroke="#fbeff0" stroke-width="0.7" stroke-linejoin="round"/>
<polygon points="902.02,237.26 918.13,235.47 909.8,229.8 893.9,231.54" fill="#a8777c" stroke="#fbeff0" stroke-width="0.7" stroke-linejoin="round"/></svg></body></html>
